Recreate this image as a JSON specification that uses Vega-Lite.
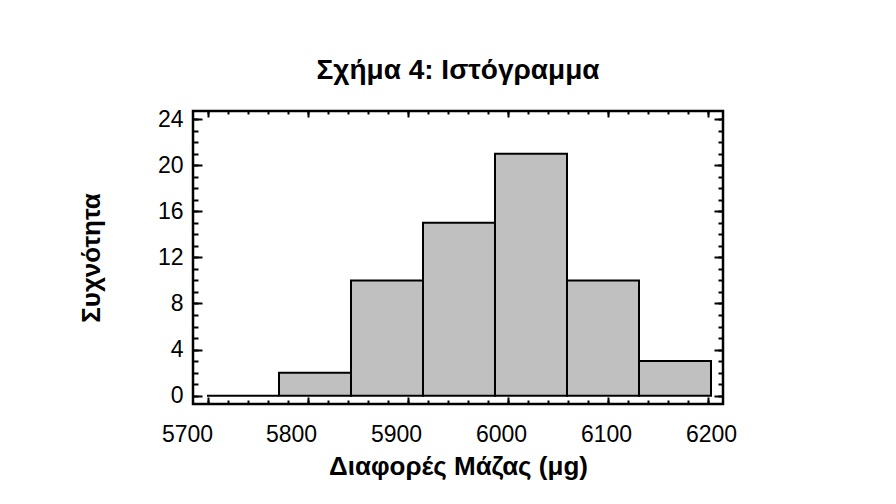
{
  "$schema": "https://vega.github.io/schema/vega-lite/v6.json",
  "autosize": {"type": "none"},
  "padding": {"left": 193, "top": 111, "right": 173, "bottom": 100},
  "width": 530,
  "height": 293,
  "background": "white",
  "title": {
    "text": "Σχήμα 4: Ιστόγραμμα",
    "font": "Liberation Sans",
    "fontSize": 28,
    "fontWeight": "bold",
    "color": "black",
    "anchor": "middle",
    "offset": 23
  },
  "config": {
    "view": {"stroke": "black", "strokeWidth": 2.5},
    "axis": {
      "domain": false,
      "grid": false,
      "tickColor": "black",
      "tickWidth": 2,
      "labelFont": "Liberation Sans",
      "labelFontSize": 23,
      "labelColor": "black",
      "titleFont": "Liberation Sans",
      "titleFontSize": 26,
      "titleFontWeight": "bold",
      "titleColor": "black"
    }
  },
  "data": {
    "values": [
      {"lo": 5699, "hi": 5771, "count": 0},
      {"lo": 5771, "hi": 5843, "count": 2},
      {"lo": 5843, "hi": 5915, "count": 10},
      {"lo": 5915, "hi": 5987, "count": 15},
      {"lo": 5987, "hi": 6059, "count": 21},
      {"lo": 6059, "hi": 6131, "count": 10},
      {"lo": 6131, "hi": 6203, "count": 3}
    ]
  },
  "resolve": {"axis": {"x": "independent", "y": "independent"}},
  "layer": [
    {
      "mark": {"type": "bar", "fill": "#c0c0c0", "stroke": "black", "strokeWidth": 2},
      "encoding": {
        "x": {
          "field": "lo", "type": "quantitative",
          "scale": {"domain": [5685, 6215], "nice": false, "zero": false},
          "axis": {
            "orient": "bottom",
            "values": [5700, 5800, 5900, 6000, 6100, 6200],
            "format": "d",
            "tickSize": -7,
            "labelPadding": 26,
            "labelOffset": {
              "condition": [
                {"test": "datum.value === 5700", "value": -21},
                {"test": "datum.value === 5800", "value": -17},
                {"test": "datum.value === 5900", "value": -12},
                {"test": "datum.value === 6000", "value": -7},
                {"test": "datum.value === 6100", "value": -2}
              ],
              "value": 3
            },
            "title": "Διαφορές Μάζας (μg)",
            "titlePadding": 7
          }
        },
        "x2": {"field": "hi"},
        "y": {
          "field": "count", "type": "quantitative",
          "scale": {"domain": [-0.72, 24.7], "nice": false, "zero": false},
          "axis": {
            "orient": "left",
            "values": [0, 4, 8, 12, 16, 20, 24],
            "format": "d",
            "tickSize": -9,
            "labelPadding": 19,
            "title": "Συχνότητα",
            "titlePadding": 53
          }
        },
        "y2": {"datum": 0}
      }
    },
    {
      "mark": {"type": "point", "opacity": 0},
      "encoding": {
        "x": {
          "field": "lo", "type": "quantitative",
          "axis": {
            "orient": "bottom",
            "values": [5700, 5720, 5740, 5760, 5780, 5800, 5820, 5840, 5860, 5880, 5900, 5920, 5940, 5960, 5980, 6000, 6020, 6040, 6060, 6080, 6100, 6120, 6140, 6160, 6180, 6200],
            "tickSize": -4,
            "labels": false,
            "title": null
          }
        },
        "y": {
          "field": "count", "type": "quantitative",
          "axis": {
            "orient": "left",
            "values": [0, 1, 2, 3, 4, 5, 6, 7, 8, 9, 10, 11, 12, 13, 14, 15, 16, 17, 18, 19, 20, 21, 22, 23, 24],
            "tickSize": -5,
            "labels": false,
            "title": null
          }
        }
      }
    },
    {
      "mark": {"type": "point", "opacity": 0},
      "encoding": {
        "x": {
          "field": "lo", "type": "quantitative",
          "axis": {
            "orient": "top",
            "values": [5700, 5800, 5900, 6000, 6100, 6200],
            "tickSize": -6,
            "labels": false,
            "title": null
          }
        },
        "y": {
          "field": "count", "type": "quantitative",
          "axis": {
            "orient": "right",
            "values": [0, 4, 8, 12, 16, 20, 24],
            "tickSize": -9,
            "labels": false,
            "title": null
          }
        }
      }
    },
    {
      "mark": {"type": "point", "opacity": 0},
      "encoding": {
        "x": {
          "field": "lo", "type": "quantitative",
          "axis": {
            "orient": "top",
            "values": [5700, 5720, 5740, 5760, 5780, 5800, 5820, 5840, 5860, 5880, 5900, 5920, 5940, 5960, 5980, 6000, 6020, 6040, 6060, 6080, 6100, 6120, 6140, 6160, 6180, 6200],
            "tickSize": -3,
            "labels": false,
            "title": null
          }
        },
        "y": {
          "field": "count", "type": "quantitative",
          "axis": {
            "orient": "right",
            "values": [0, 1, 2, 3, 4, 5, 6, 7, 8, 9, 10, 11, 12, 13, 14, 15, 16, 17, 18, 19, 20, 21, 22, 23, 24],
            "tickSize": -5,
            "labels": false,
            "title": null
          }
        }
      }
    }
  ]
}
